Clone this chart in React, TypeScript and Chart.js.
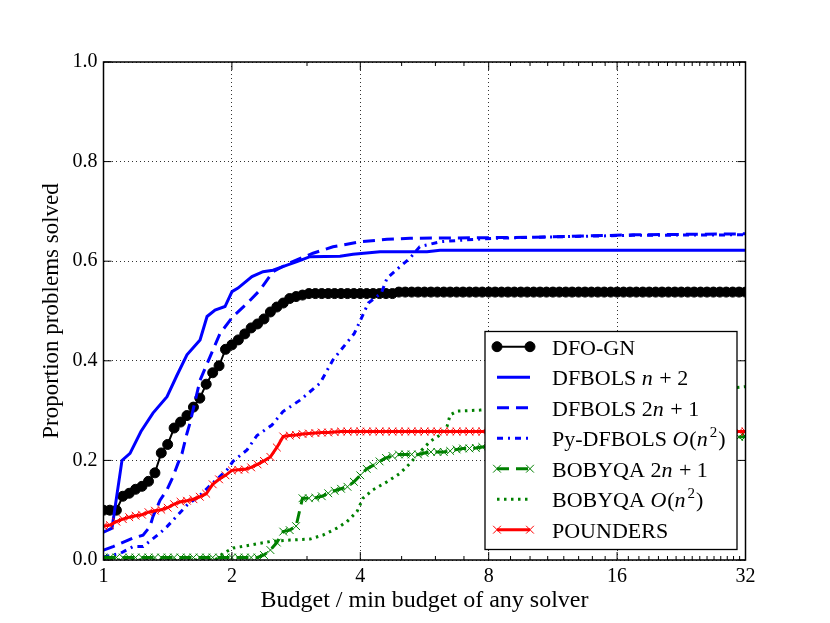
import { useEffect, useRef } from "react";
import { Chart, registerables } from "chart.js";

Chart.register(...registerables);

// ---------- data ----------
const budgetGrid = [
  1.000, 1.035, 1.072, 1.110, 1.149, 1.189, 1.231, 1.275, 1.320, 1.366,
  1.414, 1.464, 1.516, 1.569, 1.625, 1.682, 1.741, 1.803, 1.866, 1.932,
  2.000, 2.071, 2.144, 2.219, 2.297, 2.378, 2.462, 2.549, 2.639, 2.732,
  2.828, 2.928, 3.031, 3.138, 3.249, 3.364, 3.482, 3.605, 3.732, 3.864,
  4.000, 4.141, 4.287, 4.438, 4.595, 4.757, 4.925, 5.099, 5.278, 5.464,
  5.657, 5.856, 6.063, 6.277, 6.498, 6.727, 6.964, 7.210, 7.464, 7.727,
  8.000, 8.282, 8.574, 8.877, 9.190, 9.514, 9.849, 10.196, 10.556, 10.928,
  11.314, 11.713, 12.126, 12.553, 12.996, 13.454, 13.929, 14.420, 14.929, 15.455,
  16.000, 16.564, 17.148, 17.753, 18.379, 19.027, 19.698, 20.393, 21.112, 21.857,
  22.627, 23.425, 24.251, 25.107, 25.992, 26.909, 27.858, 28.840, 29.857, 30.910,
  32.000,
];

const dfoGn = [
  0.100, 0.100, 0.100, 0.128, 0.134, 0.142, 0.148, 0.158, 0.175, 0.215,
  0.232, 0.265, 0.277, 0.290, 0.307, 0.325, 0.353, 0.376, 0.390, 0.423,
  0.432, 0.442, 0.454, 0.466, 0.474, 0.484, 0.498, 0.508, 0.516, 0.525,
  0.529, 0.532, 0.535, 0.535, 0.535, 0.535, 0.535, 0.535, 0.535, 0.535,
  0.535, 0.535, 0.535, 0.535, 0.535, 0.535, 0.538, 0.538, 0.538, 0.538,
  0.538, 0.538, 0.538, 0.538, 0.538, 0.538, 0.538, 0.538, 0.538, 0.538,
  0.538, 0.538, 0.538, 0.538, 0.538, 0.538, 0.538, 0.538, 0.538, 0.538,
  0.538, 0.538, 0.538, 0.538, 0.538, 0.538, 0.538, 0.538, 0.538, 0.538,
  0.538, 0.538, 0.538, 0.538, 0.538, 0.538, 0.538, 0.538, 0.538, 0.538,
  0.538, 0.538, 0.538, 0.538, 0.538, 0.538, 0.538, 0.538, 0.538, 0.538,
  0.538,
];

const bobyqa2n1 = [
  0.005, 0.005, 0.005, 0.005, 0.005, 0.005, 0.005, 0.005, 0.005, 0.005,
  0.005, 0.005, 0.005, 0.005, 0.005, 0.005, 0.005, 0.005, 0.005, 0.005,
  0.005, 0.005, 0.005, 0.005, 0.005, 0.010, 0.020, 0.035, 0.057, 0.060,
  0.068, 0.124, 0.124, 0.125, 0.128, 0.134, 0.139, 0.143, 0.147, 0.157,
  0.170, 0.183, 0.190, 0.198, 0.205, 0.209, 0.212, 0.212, 0.212, 0.212,
  0.215, 0.217, 0.217, 0.217, 0.219, 0.222, 0.224, 0.224, 0.225, 0.227,
  0.228, 0.228, 0.229, 0.229, 0.230, 0.230, 0.231, 0.231, 0.232, 0.232,
  0.233, 0.234, 0.234, 0.235, 0.236, 0.236, 0.237, 0.238, 0.238, 0.239,
  0.240, 0.240, 0.241, 0.241, 0.242, 0.242, 0.243, 0.243, 0.244, 0.244,
  0.245, 0.245, 0.245, 0.246, 0.246, 0.246, 0.247, 0.247, 0.247, 0.247,
  0.248,
];

const pounders = [
  0.068, 0.070, 0.077, 0.082, 0.086, 0.089, 0.091, 0.096, 0.099, 0.101,
  0.105, 0.112, 0.117, 0.119, 0.122, 0.127, 0.133, 0.152, 0.162, 0.170,
  0.180, 0.181, 0.182, 0.186, 0.192, 0.199, 0.207, 0.226, 0.248, 0.250,
  0.251, 0.253, 0.254, 0.255, 0.256, 0.256, 0.257, 0.258, 0.258, 0.258,
  0.258, 0.258, 0.258, 0.258, 0.258, 0.258, 0.258, 0.258, 0.258, 0.258,
  0.258, 0.258, 0.258, 0.258, 0.258, 0.258, 0.258, 0.258, 0.258, 0.258,
  0.258, 0.258, 0.258, 0.258, 0.258, 0.258, 0.258, 0.258, 0.258, 0.258,
  0.258, 0.258, 0.258, 0.258, 0.258, 0.258, 0.258, 0.258, 0.258, 0.258,
  0.258, 0.258, 0.258, 0.258, 0.258, 0.258, 0.258, 0.258, 0.258, 0.258,
  0.258, 0.258, 0.258, 0.258, 0.258, 0.258, 0.258, 0.258, 0.258, 0.258,
  0.258,
];

const dfbolsN2Budget = [
  1.000, 1.047, 1.105, 1.154, 1.224, 1.306, 1.409, 1.487, 1.569, 1.684,
  1.749, 1.826, 1.927, 2.001, 2.067, 2.229, 2.366, 2.497, 2.693, 2.842,
  3.049, 3.585, 3.846, 4.449, 5.734, 6.151, 32.000,
];
const dfbolsN2 = [
  0.056, 0.064, 0.200, 0.214, 0.258, 0.295, 0.328, 0.371, 0.412, 0.442,
  0.489, 0.502, 0.509, 0.539, 0.546, 0.569, 0.579, 0.582, 0.592, 0.599,
  0.609, 0.610, 0.614, 0.619, 0.619, 0.622, 0.622,
];

const dfbols2n1Budget = [
  1.000, 1.053, 1.173, 1.238, 1.285, 1.306, 1.357, 1.409, 1.455, 1.495,
  1.528, 1.569, 1.595, 1.684, 1.777, 1.876, 2.012, 2.170, 2.328, 2.497,
  2.737, 3.099, 3.452, 3.994, 4.621, 5.231, 10.16, 17.43, 32.000,
];
const dfbols2n1 = [
  0.020, 0.027, 0.044, 0.050, 0.067, 0.087, 0.120, 0.141, 0.167, 0.194,
  0.214, 0.254, 0.275, 0.361, 0.408, 0.455, 0.489, 0.515, 0.542, 0.579,
  0.597, 0.616, 0.629, 0.639, 0.644, 0.646, 0.648, 0.653, 0.655,
];

const pyDfbolsBudget = [
  1.000, 1.093, 1.173, 1.238, 1.357, 1.409, 1.569, 1.684, 1.806, 1.948,
  2.012, 2.170, 2.290, 2.483, 2.635, 2.889, 3.218, 3.452, 3.873, 4.177,
  4.480, 4.621, 4.956, 5.231, 5.512, 6.151, 7.115, 8.189, 10.16, 17.43,
  32.000,
];
const pyDfbols = [
  0.006, 0.013, 0.027, 0.027, 0.054, 0.067, 0.110, 0.130, 0.155, 0.181,
  0.198, 0.221, 0.250, 0.271, 0.298, 0.321, 0.355, 0.402, 0.455, 0.516,
  0.536, 0.566, 0.589, 0.606, 0.629, 0.639, 0.643, 0.646, 0.648, 0.652,
  0.653,
];

const bobyqaOn2Budget = [
  1.000, 1.826, 1.906, 2.012, 2.205, 2.457, 2.737, 3.049, 3.270, 3.526,
  3.722, 3.929, 4.058, 4.284, 4.621, 4.956, 5.231, 5.522, 5.829, 6.152,
  6.387, 6.494, 6.743, 7.633, 14.59, 32.000,
];
const bobyqaOn2 = [
  0.000, 0.000, 0.013, 0.024, 0.030, 0.037, 0.040, 0.042, 0.050, 0.064,
  0.077, 0.097, 0.124, 0.141, 0.157, 0.174, 0.194, 0.217, 0.238, 0.251,
  0.268, 0.291, 0.299, 0.301, 0.320, 0.348,
];

const xTickValues = [1, 2, 4, 8, 16, 32];
const xMinorTickValues = [3, 5, 6, 7, 9, 10, 11, 12, 13, 14, 15, 17, 18, 19, 20, 21, 22, 23, 24, 25, 26, 27, 28, 29, 30, 31];
const yTickValues = [0, 0.2, 0.4, 0.6, 0.8, 1.0];

const seriesNames = [
  "DFO-GN",
  "DFBOLS n + 2",
  "DFBOLS 2n + 1",
  "Py-DFBOLS O(n^2)",
  "BOBYQA 2n + 1",
  "BOBYQA O(n^2)",
  "POUNDERS",
];

// legend text runs: [text, style]  rm = roman, it = math italic, sup = superscript
const legendRuns: [string, string][][] = [
  [["DFO-GN", "rm"]],
  [["DFBOLS ", "rm"], ["n", "it"], [" + 2", "rm"]],
  [["DFBOLS 2", "rm"], ["n", "it"], [" + 1", "rm"]],
  [["Py-DFBOLS ", "rm"], ["O", "it"], ["(", "rm"], ["n", "it"], ["2", "sup"], [")", "rm"]],
  [["BOBYQA 2", "rm"], ["n", "it"], [" + 1", "rm"]],
  [["BOBYQA ", "rm"], ["O", "it"], ["(", "rm"], ["n", "it"], ["2", "sup"], [")", "rm"]],
  [["POUNDERS", "rm"]],
];

const FONT = "'Liberation Serif', 'DejaVu Serif', serif";

const pts = (xs: number[], ys: number[]) => xs.map((x, i) => ({ x, y: ys[i] }));

function drawMarker(ctx: CanvasRenderingContext2D, style: string, x: number, y: number, r: number, color: string, bw: number) {
  ctx.save();
  ctx.setLineDash([]);
  ctx.strokeStyle = color;
  ctx.fillStyle = color;
  ctx.lineWidth = bw;
  ctx.beginPath();
  if (style === "circle") {
    ctx.arc(x, y, r, 0, Math.PI * 2);
    ctx.fill();
    ctx.stroke();
  } else if (style === "crossRot") {
    const d = r * Math.SQRT1_2;
    ctx.moveTo(x - d, y - d);
    ctx.lineTo(x + d, y + d);
    ctx.moveTo(x + d, y - d);
    ctx.lineTo(x - d, y + d);
    ctx.stroke();
  }
  ctx.restore();
}

const frameTicksPlugin = {
  id: "frameTicks",
  afterDatasetsDraw(chart: any) {
    const { ctx, chartArea: a, scales } = chart;
    const xs = scales.x;
    const ys = scales.y;
    ctx.save();
    ctx.strokeStyle = "#000";
    ctx.lineWidth = 1;
    ctx.setLineDash([]);
    ctx.beginPath();
    for (const v of xTickValues) {
      const p = xs.getPixelForValue(v);
      ctx.moveTo(p, a.bottom);
      ctx.lineTo(p, a.bottom - 8);
      ctx.moveTo(p, a.top);
      ctx.lineTo(p, a.top + 8);
    }
    for (const v of xMinorTickValues) {
      const p = xs.getPixelForValue(v);
      ctx.moveTo(p, a.bottom);
      ctx.lineTo(p, a.bottom - 4);
      ctx.moveTo(p, a.top);
      ctx.lineTo(p, a.top + 4);
    }
    for (const v of yTickValues) {
      const p = ys.getPixelForValue(v);
      ctx.moveTo(a.left, p);
      ctx.lineTo(a.left + 8, p);
      ctx.moveTo(a.right, p);
      ctx.lineTo(a.right - 8, p);
    }
    ctx.stroke();
    ctx.lineWidth = 1.5;
    ctx.strokeRect(a.left, a.top, a.right - a.left, a.bottom - a.top);
    ctx.restore();
  },
};

const legendPlugin = {
  id: "texLegend",
  afterDraw(chart: any) {
    const { ctx, chartArea: a } = chart;
    const boxW = 252;
    const boxH = 218;
    const right = a.right - 8.5;
    const bottom = a.bottom - 10.5;
    const left = right - boxW;
    const top = bottom - boxH;
    ctx.save();
    ctx.fillStyle = "#fff";
    ctx.fillRect(left, top, boxW, boxH);
    ctx.strokeStyle = "#000";
    ctx.lineWidth = 1.3;
    ctx.setLineDash([]);
    ctx.strokeRect(left, top, boxW, boxH);

    chart.data.datasets.forEach((ds: any, i: number) => {
      const y = top + 15.2 + i * 30.5;
      const x0 = left + 12;
      const x1 = left + 45;
      ctx.save();
      ctx.strokeStyle = ds.borderColor;
      ctx.lineWidth = ds.borderWidth;
      ctx.setLineDash(ds.borderDash || []);
      ctx.lineCap = "butt";
      ctx.beginPath();
      ctx.moveTo(x0, y);
      ctx.lineTo(x1, y);
      ctx.stroke();
      ctx.restore();
      if (ds.pointRadius > 0) {
        drawMarker(ctx, ds.pointStyle, x0, y, ds.pointRadius, ds.pointBorderColor, ds.pointBorderWidth);
        drawMarker(ctx, ds.pointStyle, x1, y, ds.pointRadius, ds.pointBorderColor, ds.pointBorderWidth);
      }
      let tx = left + 67;
      const base = y + 8;
      ctx.fillStyle = "#000";
      ctx.textBaseline = "alphabetic";
      ctx.textAlign = "left";
      for (const [text, style] of legendRuns[i]) {
        if (style === "sup") {
          ctx.font = `15px ${FONT}`;
          ctx.fillText(text, tx + 1, base - 9);
          tx += ctx.measureText(text).width + 2;
        } else {
          ctx.font = style === "it" ? `italic 22px ${FONT}` : `22px ${FONT}`;
          ctx.fillText(text, tx, base);
          tx += ctx.measureText(text).width + (style === "it" ? 1 : 0);
        }
      }
    });
    ctx.restore();
  },
};

export default function App() {
  const ref = useRef<HTMLCanvasElement>(null);

  useEffect(() => {
    Chart.defaults.font.family = FONT;
    Chart.defaults.color = "#000";

    const common = { tension: 0, clip: 0, pointHoverRadius: 0 };

    const datasets: any[] = [
      {
        ...common,
        label: seriesNames[0],
        data: pts(budgetGrid, dfoGn),
        borderColor: "#000000",
        borderWidth: 2,
        pointStyle: "circle",
        pointRadius: 5,
        pointBackgroundColor: "#000000",
        pointBorderColor: "#000000",
        pointBorderWidth: 1,
        order: 7,
      },
      {
        ...common,
        label: seriesNames[1],
        data: pts(dfbolsN2Budget, dfbolsN2),
        borderColor: "#0000ff",
        borderWidth: 3,
        pointRadius: 0,
        order: 6,
      },
      {
        ...common,
        label: seriesNames[2],
        data: pts(dfbols2n1Budget, dfbols2n1),
        borderColor: "#0000ff",
        borderWidth: 3,
        borderDash: [12, 7],
        pointRadius: 0,
        order: 5,
      },
      {
        ...common,
        label: seriesNames[3],
        data: pts(pyDfbolsBudget, pyDfbols),
        borderColor: "#0000ff",
        borderWidth: 3,
        borderDash: [6, 5, 2, 5],
        pointRadius: 0,
        order: 4,
      },
      {
        ...common,
        label: seriesNames[4],
        data: pts(budgetGrid, bobyqa2n1),
        borderColor: "#008000",
        borderWidth: 3,
        borderDash: [12, 7],
        pointStyle: "crossRot",
        pointRadius: 5.5,
        pointBackgroundColor: "#008000",
        pointBorderColor: "#008000",
        pointBorderWidth: 1,
        order: 3,
      },
      {
        ...common,
        label: seriesNames[5],
        data: pts(bobyqaOn2Budget, bobyqaOn2),
        borderColor: "#008000",
        borderWidth: 3,
        borderDash: [2.5, 4.5],
        pointRadius: 0,
        order: 2,
      },
      {
        ...common,
        label: seriesNames[6],
        data: pts(budgetGrid, pounders),
        borderColor: "#ff0000",
        borderWidth: 3,
        pointStyle: "crossRot",
        pointRadius: 5.5,
        pointBackgroundColor: "#ff0000",
        pointBorderColor: "#ff0000",
        pointBorderWidth: 1,
        order: 1,
      },
    ];

    const gridStyle = { color: "rgba(0,0,0,0.8)", lineWidth: 1, drawTicks: false };

    const chart = new Chart(ref.current as HTMLCanvasElement, {
      type: "line",
      data: { datasets },
      options: {
        animation: false,
        responsive: true,
        maintainAspectRatio: false,
        events: [],
        layout: { padding: { left: 37.7, right: 84.5, top: 62, bottom: 7.5 } },
        plugins: { legend: { display: false }, tooltip: { enabled: false } },
        scales: {
          x: {
            type: "logarithmic",
            position: "bottom",
            min: 1,
            max: 32,
            afterBuildTicks: (scale: any) => {
              scale.ticks = xTickValues.map((v) => ({ value: v }));
            },
            afterFit: (scale: any) => {
              scale.height = 55.5;
            },
            ticks: {
              autoSkip: false,
              maxRotation: 0,
              padding: 5,
              color: "#000",
              font: { size: 20, family: FONT },
              callback: (v: any) => String(v),
            },
            grid: gridStyle,
            border: { display: false, dash: [1, 3] },
            title: {
              display: true,
              text: "Budget / min budget of any solver",
              color: "#000",
              font: { size: 24, family: FONT },
              padding: { top: 0, bottom: 0 },
            },
          },
          y: {
            type: "linear",
            min: 0,
            max: 1,
            afterBuildTicks: (scale: any) => {
              scale.ticks = yTickValues.map((v) => ({ value: v }));
            },
            afterFit: (scale: any) => {
              scale.width = 65.8;
            },
            ticks: {
              padding: 6,
              color: "#000",
              font: { size: 20, family: FONT },
              callback: (v: any) => Number(v).toFixed(1),
            },
            grid: gridStyle,
            border: { display: false, dash: [1, 3] },
            title: {
              display: true,
              text: "Proportion problems solved",
              color: "#000",
              font: { size: 23, family: FONT },
              padding: { top: 0, bottom: 0 },
            },
          },
        },
      },
      plugins: [frameTicksPlugin, legendPlugin],
    } as any);

    return () => chart.destroy();
  }, []);

  return (
    <div style={{ position: "absolute", left: 0, top: 0, width: 830, height: 623, background: "#fff" }}>
      <canvas ref={ref} />
    </div>
  );
}
